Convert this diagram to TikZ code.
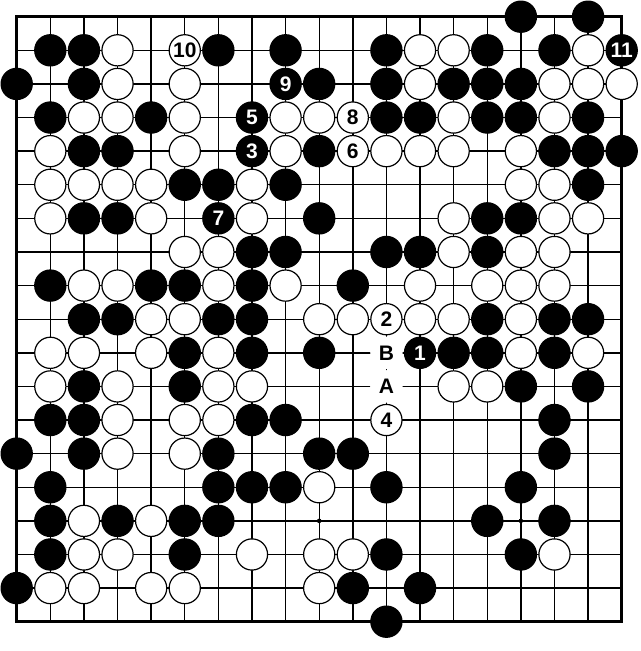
\documentclass[tikz,border=0pt]{standalone}
\usepackage{fontspec}
\usepackage{tikz}
\newfontfamily\boardfont{Liberation Sans}
\tikzset{
  gridline/.style={line width=1.4pt, color=black},
  edgeline/.style={line width=3.2pt, color=black},
  bstone/.style={circle, fill=black, draw=black, line width=1.2pt, minimum size=31.2pt, inner sep=0pt, text=white, font=\boardfont\bfseries\fontsize{21}{21}\selectfont},
  wstone/.style={circle, fill=white, draw=black, line width=1.2pt, minimum size=31.2pt, inner sep=0pt, text=black, font=\boardfont\bfseries\fontsize{21}{21}\selectfont},
  markpoint/.style={circle, fill=white, minimum size=32.4pt, inner sep=0pt, text=black, font=\boardfont\bfseries\fontsize{21}{21}\selectfont}
}
\begin{document}
\begin{tikzpicture}[x=33.61pt, y=-33.61pt]
		\useasboundingbox (-0.497,-0.497) rectangle (18.545,18.872);

		% draw grid
		\foreach \i in {0,...,18} {
			\draw[gridline] (\i,0) -- (\i,18);
			\draw[gridline] (0,\i) -- (18,\i);
		}
		\draw[edgeline] (0,0) rectangle (18,18);
		\foreach \x in {3,9,15} \foreach \y in {3,9,15} \fill (\x,\y) circle (2.3pt);

		% draw black stones
		\foreach \r/\cols in {0/{15,17}, 1/{1,2,6,8,11,14,16}, 2/{0,2,9,11,13,14,15}, 3/{1,4,11,12,14,15,17},
			4/{2,3,9,16,17,18}, 5/{5,6,8,17}, 6/{2,3,9,14,15}, 7/{7,8,11,12,14}, 8/{1,4,5,7,10},
			9/{2,3,6,7,14,16,17}, 10/{5,7,9,13,14,16}, 11/{2,5,15,17}, 12/{1,2,7,8,16},
			13/{0,2,6,9,10,16}, 14/{1,6,7,8,11,15}, 15/{1,3,5,6,14,16}, 16/{1,5,11,15}, 17/{0,10,12}, 18/{11}} {
			\foreach \c in \cols \node[bstone] (b\c-\r) at (\c,\r) {};
		}

		% draw white stones
		\foreach \r/\cols in {1/{3,12,13,17}, 2/{3,5,12,16,17,18}, 3/{2,3,5,8,9,13,16}, 4/{1,5,8,11,12,13,15},
			5/{1,2,3,4,7,15,16}, 6/{1,4,7,13,16,17}, 7/{5,6,13,15,16}, 8/{2,3,6,8,12,14,15,16},
			9/{4,5,9,10,12,13,15}, 10/{1,2,4,6,15,17}, 11/{1,3,6,7,13,14}, 12/{3,5,6}, 13/{3,5},
			14/{9}, 15/{2,4}, 16/{2,3,7,9,10,16}, 17/{1,2,4,5,9}} {
			\foreach \c in \cols \node[wstone] (w\c-\r) at (\c,\r) {};
		}

		% draw numbered moves
		\node[bstone](moveOne) at (12,10){1};
		\node[wstone](moveTwo) at (11,9){2};
		\node[bstone](moveThree) at (7,4){3};
		\node[wstone](moveFour) at (11,12){4};
		\node[bstone](moveFive) at (7,3){5};
		\node[wstone](moveSix) at (10,4){6};
		\node[bstone](moveSeven) at (6,6){7};
		\node[wstone](moveEight) at (10,3){8};
		\node[bstone](moveNine) at (8,2){9};
		\node[wstone](moveTen) at (5,1){10};
		\node[bstone](moveEleven) at (18,1){11};

		% draw letter points
		\node[markpoint](pointA) at (11,11){A};
		\node[markpoint](pointB) at (11,10){B};
\end{tikzpicture}
\end{document}
